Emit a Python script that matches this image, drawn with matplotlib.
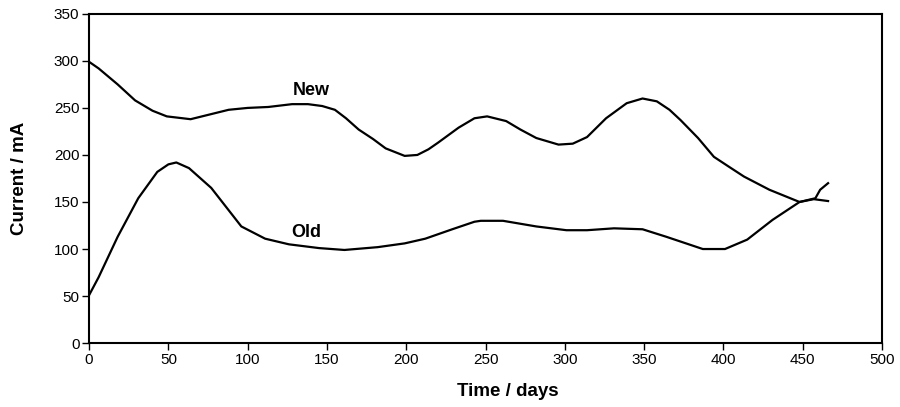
import matplotlib.pyplot as plt

plt.rcParams['font.family'] = ['Liberation Sans', 'DejaVu Sans']

# values
new_days = [0, 6, 18, 29, 40, 49, 64, 76, 88, 100, 113, 128, 138, 147, 155, 162, 170, 179, 187,
            199, 207, 214, 220, 233, 243, 251, 263, 272, 282, 296, 305, 314, 326, 339, 349, 358,
            366, 373, 384, 394, 403, 413, 429, 448, 457, 466]
new_current = [299, 292, 275, 258, 247, 241, 238, 243, 248, 250, 251, 254, 254, 252, 248, 239,
               227, 217, 207, 199, 200, 206, 213, 229, 239, 241, 236, 227, 218, 211, 212, 219,
               239, 255, 260, 257, 248, 237, 218, 198, 188, 177, 163, 150, 153, 151]

old_days = [0, 6, 18, 31, 43, 50, 55, 63, 77, 96, 111, 126, 145, 161, 182, 199, 212, 229, 243,
            247, 261, 282, 301, 314, 331, 349, 364, 387, 401, 415, 431, 448, 458, 461, 466]
old_current = [51, 70, 113, 154, 182, 190, 192, 186, 165, 124, 111, 105, 101, 99, 102, 106, 111,
               121, 129, 130, 130, 124, 120, 120, 122, 121, 113, 100, 100, 110, 131, 150, 154,
               163, 170]

fig = plt.figure(figsize=(9, 4.07), dpi=100)
ax = fig.add_axes([0.099, 0.157, 0.881, 0.809])

ax.plot(new_days, new_current, color='black', lw=1.6, solid_joinstyle='round')
ax.plot(old_days, old_current, color='black', lw=1.6, solid_joinstyle='round')

ax.text(140, 269, 'New', fontsize=13, fontweight='bold', ha='center', va='center')
ax.text(137, 118, 'Old', fontsize=13, fontweight='bold', ha='center', va='center')

ax.set_xlim(0, 500)
ax.set_ylim(0, 350)
ax.set_xticks(range(0, 501, 50))
ax.set_yticks(range(0, 351, 50))
ax.tick_params(direction='out', length=5, width=1, pad=2, labelsize=11, colors='black')
for s in ax.spines.values():
    s.set_linewidth(1.5)

ax.set_xlabel('Time / days', fontsize=13.5, fontweight='bold')
ax.set_ylabel('Current / mA', fontsize=13.5, fontweight='bold')
ax.xaxis.set_label_coords(0.528, -0.12)
ax.yaxis.set_label_coords(-0.077, 0.5)

fig.savefig('out.png', dpi=100)
